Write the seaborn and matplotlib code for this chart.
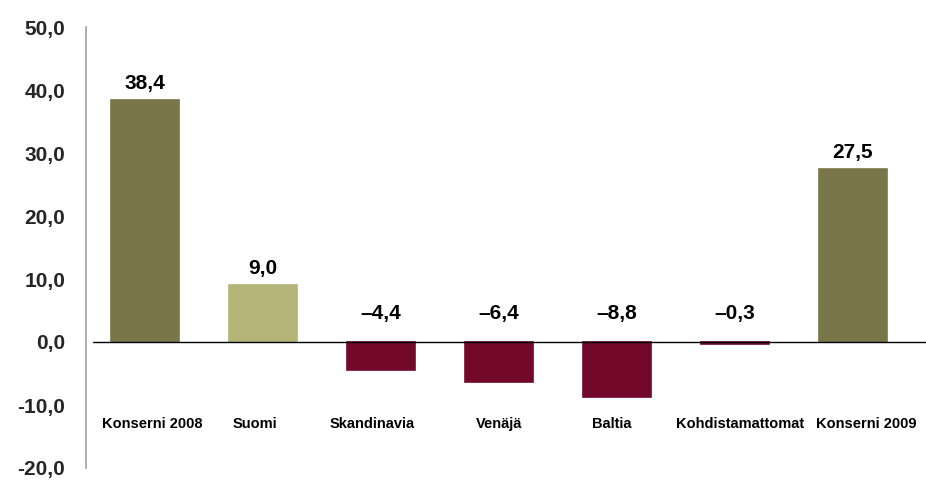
import pandas as pd
import numpy as np
import seaborn as sns
import matplotlib.pyplot as plt

categories = ["Konserni 2008", "Suomi", "Skandinavia", "Venäjä", "Baltia",
              "Kohdistamattomat", "Konserni 2009"]
values = [38.4, 9.0, -4.4, -6.4, -8.8, -0.3, 27.5]
bar_colors = ["#79774a", "#b4b378", "#73092a", "#73092a", "#73092a",
              "#73092a", "#79774a"]
y_ticks = [-20, -10, 0, 10, 20, 30, 40, 50]


def fi(v, dash="-"):
    return f"{v:.1f}".replace(".", ",").replace("-", dash)


df = pd.DataFrame({"Kategoria": categories, "Arvo": values})

sns.set_theme(style="white")
plt.rcParams["font.family"] = ["Liberation Sans", "DejaVu Sans"]
plt.rcParams["font.weight"] = "bold"

fig = plt.figure(figsize=(9.26, 4.83), dpi=100)
ax = fig.add_axes([86 / 926, 15 / 483, 840 / 926, 441 / 483])

sns.barplot(
    data=df,
    x="Kategoria",
    y="Arvo",
    hue="Kategoria",
    palette=bar_colors,
    saturation=1,
    legend=False,
    width=0.58,
    ax=ax,
)
for patch, c in zip(ax.patches, bar_colors):
    patch.set_edgecolor(c)
    patch.set_linewidth(1.2)

ax.set_xlim(-0.5, 6.62)
ax.set_ylim(-20, 50)
ax.set_yticks(y_ticks)
ax.set_yticklabels([fi(t) for t in y_ticks], fontsize=15, fontweight="bold")
ax.tick_params(axis="y", length=0, pad=15)
ax.set_xticks([])
ax.set_xlabel("")
ax.set_ylabel("")

for s in ["top", "right", "bottom"]:
    ax.spines[s].set_visible(False)
ax.spines["left"].set_color("#a0a0a0")
ax.spines["left"].set_linewidth(1.2)

ax.axhline(0, xmin=0.008, xmax=1, color="black", linewidth=1)

# category labels sit a little off-centre in the original
label_shift = [5, -6, -6, 0, -4, 4, 10]

for i, (cat, v) in enumerate(zip(categories, values)):
    ax.annotate(fi(v, "–"), (i, max(v, 0)), xytext=(0, 5 if v > 0 else 14),
                textcoords="offset points", ha="center", va="bottom",
                fontsize=15, fontweight="bold", color="black")
    ax.annotate(cat, (i, -13), xytext=(label_shift[i], 0),
                textcoords="offset points", ha="center", va="center",
                fontsize=10.5, fontweight="bold", color="black")

fig.savefig("out.png", dpi=100)
